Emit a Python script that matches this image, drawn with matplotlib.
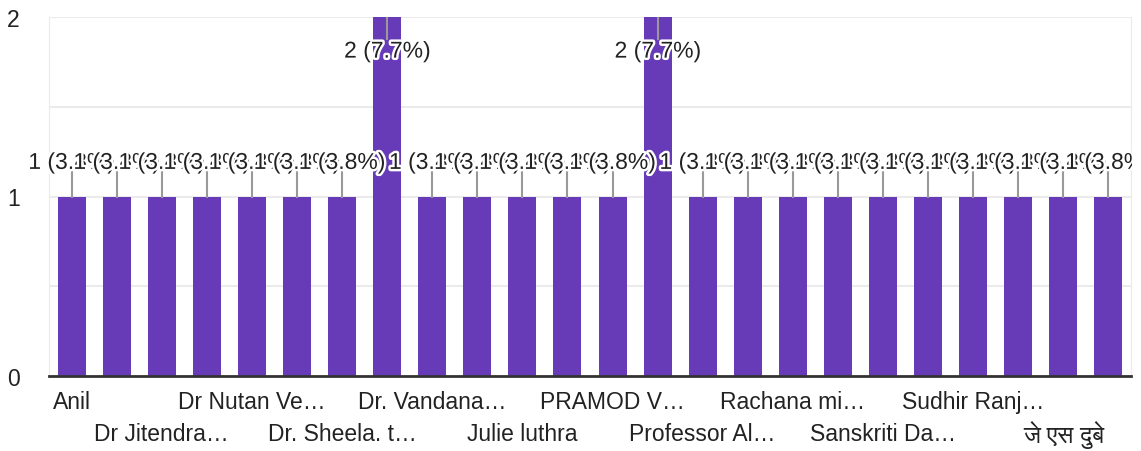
import matplotlib
matplotlib.use("Agg")
import matplotlib.pyplot as plt
import matplotlib.patheffects as pe
from matplotlib.transforms import Bbox, TransformedBbox

# ── Data ──────────────────────────────────────────────────────────────────────
# only every other name is printed on the axis; the rest are not readable
names = ["Anil", "", "Dr Jitendra…", "", "Dr Nutan Ve…", "", "Dr. Sheela. t…", "",
         "Dr. Vandana…", "", "Julie luthra", "", "PRAMOD V…", "", "Professor Al…", "",
         "Rachana mi…", "", "Sanskriti Da…", "", "Sudhir Ranj…", "", "जे एस दुबे", ""]
counts = [1, 1, 1, 1, 1, 1, 1, 2, 1, 1, 1, 1, 1, 2, 1, 1, 1, 1, 1, 1, 1, 1, 1, 1]
total = 26
yticks = [0, 1, 2]

# FreeSans carries the Devanagari glyphs (zero-width marks, so it reads fine)
plt.rcParams["font.family"] = ["Liberation Sans", "FreeSans", "DejaVu Sans"]

purple = "#673ab7"
txt = "#222222"
fs = 16.5
W, H = 1141, 452

# ── Figure ────────────────────────────────────────────────────────────────────
fig = plt.figure(figsize=(W / 100, H / 100), dpi=100)
ax = fig.add_axes([49 / W, 75 / H, 1082 / W, 359 / H])

x = list(range(len(counts)))
ax.bar(x, counts, width=0.62, color=purple, zorder=2)

ax.set_xlim(-0.5, len(counts) - 0.5)
ax.set_ylim(0, 2)
ax.set_yticks(yticks)
ax.set_yticks([0.5, 1.5], minor=True)
ax.set_yticklabels([str(t) for t in yticks], fontsize=fs, color=txt)
ax.tick_params(axis="y", which="both", length=0, pad=21)
ax.set_xticks([])
ax.grid(axis="y", which="both", color="#ebebeb", linewidth=1.5, zorder=0)
ax.set_axisbelow(True)

for s in ["left", "right"]:
    ax.spines[s].set_color("#ebebeb")
ax.spines["top"].set_visible(False)
ax.spines["bottom"].set_color("#333333")
ax.spines["bottom"].set_linewidth(2)

# chart area ends a few pixels before the image edge; labels get cut there
chart_clip = TransformedBbox(Bbox([[0, 0], [1132 / W, 1]]), fig.transFigure)

# ── Data labels with leader lines ────────────────────────────────────────────
halo = [pe.withStroke(linewidth=3.5, foreground="white")]
for i, c in enumerate(counts):
    lab = f"{c} ({c / total * 100:.1f}%)"
    if c >= 2:
        ax.plot([i, i], [c, c - 0.12], color="#999999", lw=1.5, zorder=3)
        ty = c - 0.19
    else:
        ax.plot([i, i], [c, c + 0.135], color="#999999", lw=1.5, zorder=3)
        ty = c + 0.19
    t = ax.text(i, ty, lab, ha="center", va="center", fontsize=fs, color=txt,
                path_effects=halo, zorder=4 + i * 0.01)
    t.set_clip_box(chart_clip)
    t.set_clip_on(True)

# ── Category labels in two staggered rows ────────────────────────────────────
tr = ax.get_xaxis_transform()
row = 0
for i, n in enumerate(names):
    if not n:
        continue
    off = -26 if row == 0 else -58
    size = fs if n.isascii() or "…" in n else 17.5
    ax.annotate(n, xy=(i, 0), xycoords=tr, xytext=(0, off), textcoords="offset pixels",
                ha="center", va="center", fontsize=size, color=txt, annotation_clip=False)
    row = 1 - row

fig.savefig("out.png", dpi=100)
